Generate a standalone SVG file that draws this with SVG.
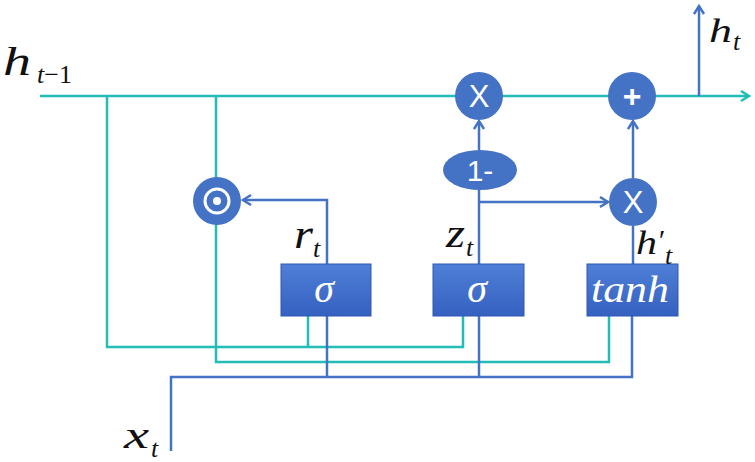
<svg xmlns="http://www.w3.org/2000/svg" width="755" height="462" viewBox="0 0 755 462">
<style>
.teal{fill:none;stroke:#22bdb5;stroke-width:2.5}
.blue{fill:none;stroke:#4472c4;stroke-width:2.5}
.op{fill:#4472c4}
.box{fill:url(#bg);stroke:#2f59b3;stroke-width:1}
.lbl{font-family:"Liberation Serif","Times New Roman",serif;font-style:italic;fill:#111}
.wt{font-family:"Liberation Sans",Arial,sans-serif;fill:#fff;text-anchor:middle}
.wm{font-family:"Liberation Serif","Times New Roman",serif;font-style:italic;fill:#fff;text-anchor:middle}
</style>
<defs>
<linearGradient id="bg" x1="0" y1="0" x2="0" y2="1">
<stop offset="0" stop-color="#4f7fd7"/>
<stop offset="1" stop-color="#3561c0"/>
</linearGradient>
<marker id="ab" markerUnits="userSpaceOnUse" markerWidth="14" markerHeight="14" refX="10" refY="6" orient="auto">
<path d="M2,1 L10,6 L2,11" fill="none" stroke="#4472c4" stroke-width="2.5"/>
</marker>
<marker id="at" markerUnits="userSpaceOnUse" markerWidth="14" markerHeight="14" refX="10" refY="6" orient="auto">
<path d="M2,1 L10,6 L2,11" fill="none" stroke="#22bdb5" stroke-width="2.5"/>
</marker>
</defs>
<g id="connectors">
<path class="teal" d="M40,96 H749" marker-end="url(#at)"/>
<path class="blue" d="M699,96 V6" marker-end="url(#ab)"/>
<path class="teal" d="M107,96 V347 H463 V316"/>
<path class="teal" d="M308,347 V316"/>
<path class="teal" d="M216,96 V362 H609 V316"/>
<path class="blue" d="M171,451 V377 H632 V316"/>
<path class="blue" d="M327,377 V316 M479,377 V316"/>
<path class="blue" d="M327,264 V200 H243" marker-end="url(#ab)"/>
<path class="blue" d="M479,264 V190"/>
<path class="blue" d="M479,150 V121" marker-end="url(#ab)"/>
<path class="blue" d="M479,202 H608" marker-end="url(#ab)"/>
<path class="blue" d="M633,264 V226"/>
<path class="blue" d="M633,178 V121" marker-end="url(#ab)"/>
</g>
<g id="mul1">
<circle class="op" cx="479" cy="96" r="24"/>
<text class="wt" x="479" y="107" font-size="31">X</text>
</g>
<g id="add">
<circle class="op" cx="632" cy="96" r="24"/>
<text class="wt" x="632" y="107" font-size="32" font-weight="bold">+</text>
</g>
<g id="hadamard">
<circle class="op" cx="217" cy="201" r="24"/>
<circle cx="217" cy="201" r="12" fill="none" stroke="#fff" stroke-width="3"/>
<circle cx="217" cy="201" r="4" fill="#fff"/>
</g>
<g id="oneminus">
<ellipse class="op" cx="480" cy="170" rx="37" ry="20"/>
<text class="wt" x="480" y="181" font-size="30">1-</text>
</g>
<g id="mul2">
<circle class="op" cx="633" cy="202" r="24"/>
<text class="wt" x="633" y="213" font-size="31">X</text>
</g>
<g id="sigma_r">
<rect class="box" x="281" y="264" width="90" height="52"/>
<text class="wm" x="324" y="302" font-size="40">σ</text>
</g>
<g id="sigma_z">
<rect class="box" x="433" y="264" width="91" height="52"/>
<text class="wm" x="477" y="302" font-size="40">σ</text>
</g>
<g id="tanh">
<rect class="box" x="587" y="264" width="91" height="52"/>
<text class="wm" x="630" y="302" font-size="38" textLength="78" lengthAdjust="spacingAndGlyphs">tanh</text>
</g>
<g id="labels">
<text class="lbl" x="3" y="75" font-size="40" textLength="28" lengthAdjust="spacingAndGlyphs">h</text>
<text class="lbl" x="37" y="83" font-size="26">t<tspan font-style="normal">−1</tspan></text>
<text class="lbl" x="709" y="42" font-size="33" textLength="23" lengthAdjust="spacingAndGlyphs">h</text>
<text class="lbl" x="733" y="50" font-size="26">t</text>
<text class="lbl" x="294" y="248" font-size="42" textLength="19" lengthAdjust="spacingAndGlyphs">r</text>
<text class="lbl" x="313" y="257" font-size="26">t</text>
<text class="lbl" x="446" y="247" font-size="40" textLength="19" lengthAdjust="spacingAndGlyphs">z</text>
<text class="lbl" x="466" y="256" font-size="26">t</text>
<text class="lbl" x="636" y="254" font-size="33" textLength="21" lengthAdjust="spacingAndGlyphs">h</text>
<text class="lbl" x="657" y="250" font-size="30" font-style="normal">′</text>
<text class="lbl" x="665" y="264" font-size="26">t</text>
<text class="lbl" x="124" y="448" font-size="38" textLength="25" lengthAdjust="spacingAndGlyphs">x</text>
<text class="lbl" x="151" y="457" font-size="26">t</text>
</g>
</svg>
